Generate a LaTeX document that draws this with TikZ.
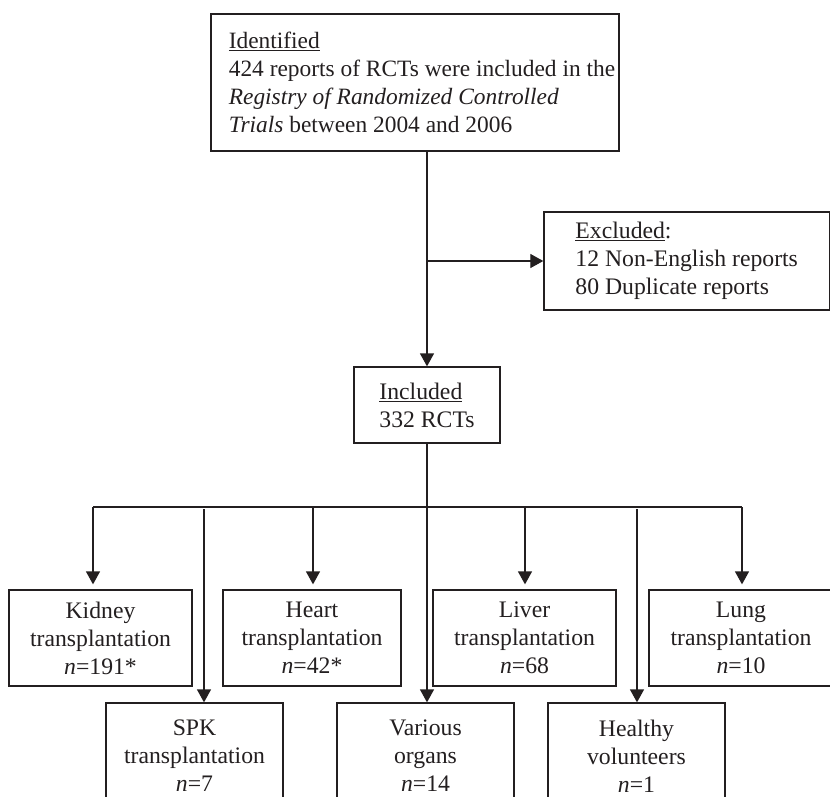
\documentclass[tikz,border=0pt]{standalone}
\usepackage{fontspec}
\setmainfont{Liberation Serif}
\usetikzlibrary{arrows.meta}
\definecolor{ink}{HTML}{231F20}
\newcommand{\indl}{\hspace*{14pt}}
\begin{document}
\begin{tikzpicture}[x=1pt,y=-1pt,
  box/.style={draw=ink, line width=1.3pt, inner sep=0pt, text=ink,
    font=\fontsize{23.7}{28}\selectfont, align=center},
  org/.style={box, minimum height=96pt},
  low/.style={box, minimum height=106pt},
  link/.style={draw=ink, line width=1.3pt},
  arr/.style={link, -{Triangle[length=13pt,width=14pt]}},
  arrg/.style={arr, shorten >=5pt}]
\useasboundingbox (0,0) rectangle (830,796);
\clip (0,0) rectangle (830,796);
\fill[white] (0,0) rectangle (830,796);

\node[box, minimum width=408pt, minimum height=137pt, align=left,
  font=\fontsize{23.4}{28}\selectfont] (top) at (415,82.5)
  {\indl\underline{Identified}\\\indl 424 reports of RCTs were included in the\\\indl\textit{Registry of Randomized Controlled}\\\indl\textit{Trials} between 2004 and 2006};

\node[box, minimum width=285.5pt, minimum height=98pt, align=left] (excl) at (686.7,261)
  {\underline{Excluded}:\\12 Non-English reports\\80 Duplicate reports};

\node[box, minimum width=146pt, minimum height=76pt, align=left] (inc) at (427,405)
  {\underline{Included}\\332 RCTs};

\node[org, minimum width=183pt] (kid) at (100.5,638) {Kidney\\transplantation\\\textit{n}=191*};
\node[org, minimum width=178pt] (hea) at (312,638) {Heart\\transplantation\\\textit{n}=42*};
\node[org, minimum width=183pt] (liv) at (524.5,638) {Liver\\transplantation\\\textit{n}=68};
\node[org, minimum width=184pt] (lun) at (741,638) {Lung\\transplantation\\\textit{n}=10};

\node[low, minimum width=177pt] (spk) at (194.5,756) {SPK\\transplantation\\\textit{n}=7};
\node[low, minimum width=177pt] (var) at (425.5,756) {Various\\organs\\\textit{n}=14};
\node[low, minimum width=177pt] (hv) at (636.5,756) {Healthy\\volunteers\\\textit{n}=1};

\draw[arr] (top.south -| inc.north) -- (inc.north);
\coordinate (br) at (inc.north |- excl.west);
\draw[arr] (br) -- (excl.west);

\coordinate (bK) at (93,507);
\coordinate (bS) at (204,507);
\coordinate (bH) at (313,507);
\coordinate (bV) at (427,507);
\coordinate (bLi) at (525,507);
\coordinate (bHv) at (637,507);
\coordinate (bLu) at (742,507);

\draw[link] (inc.south) -- (inc.south |- bK);
\draw[link] (bK) -- (bLu);
\draw[arrg] (bK) -- (bK |- kid.north);
\draw[arrg] (bH) -- (bH |- hea.north);
\draw[arrg] (bLi) -- (bLi |- liv.north);
\draw[arrg] (bLu) -- (bLu |- lun.north);
\draw[arr] ([yshift=-2pt]bS) -- (bS |- spk.north);
\draw[arr] (bV) -- (bV |- var.north);
\draw[arr] ([yshift=-2pt]bHv) -- (bHv |- hv.north);
\end{tikzpicture}
\end{document}
